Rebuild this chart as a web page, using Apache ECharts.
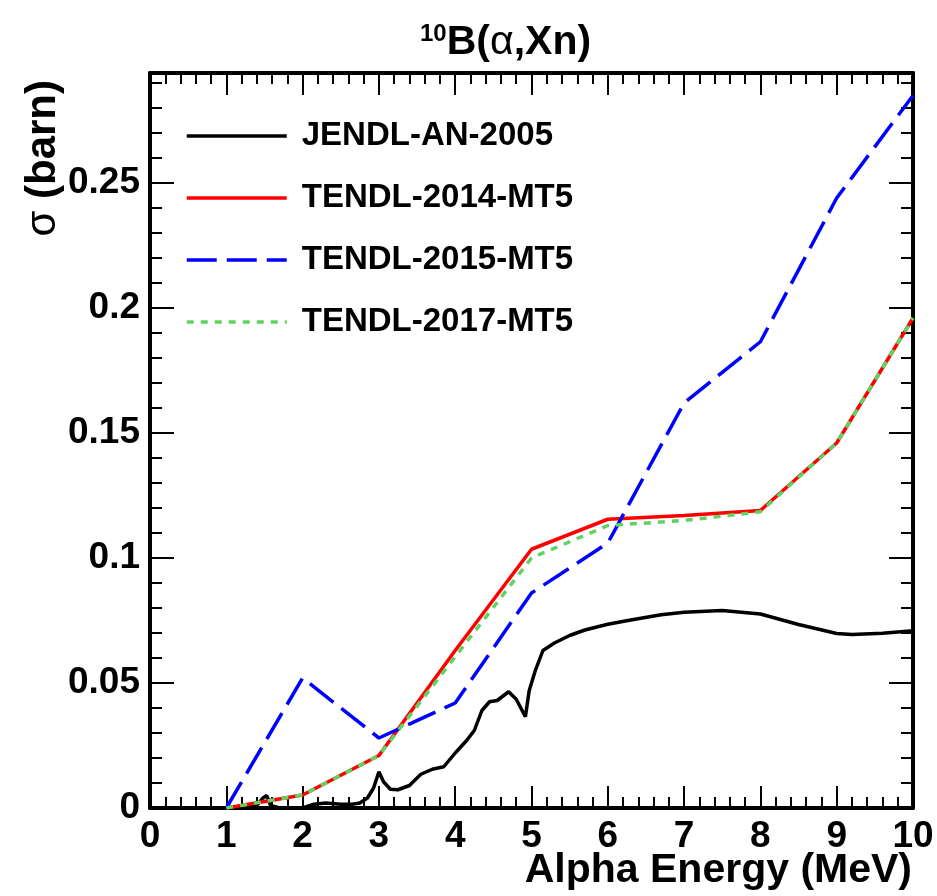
<!DOCTYPE html>
<html>
<head>
<meta charset="utf-8">
<script src="https://cdn.jsdelivr.net/npm/echarts@6/dist/echarts.min.js"></script>
<style>
  html, body { margin: 0; padding: 0; background: #fff; }
  #chart { width: 937px; height: 896px; }
</style>
</head>
<body>
<div id="chart"></div>
<script>
  // alpha energy (MeV) and cross section (barn)
  var jendlE = [1.0, 1.2, 1.4, 1.48, 1.53, 1.58, 1.7, 2.0, 2.15, 2.3, 2.5, 2.65, 2.75, 2.85, 2.93, 3.0, 3.06, 3.15, 3.25, 3.4, 3.55, 3.7, 3.85, 4.0, 4.15, 4.25, 4.35, 4.45, 4.55, 4.7, 4.8, 4.92, 4.97, 5.05, 5.15, 5.3, 5.5, 5.7, 6.0, 6.3, 6.7, 7.0, 7.5, 8.0, 8.5, 9.0, 9.2, 9.6, 10.0]
  var jendlXS = [0, 0.0005, 0.001, 0.004, 0.005, 0.001, 0, 0, 0.0015, 0.002, 0.0015, 0.0015, 0.002, 0.004, 0.008, 0.0145, 0.0105, 0.0075, 0.0073, 0.009, 0.0135, 0.0155, 0.0165, 0.022, 0.027, 0.031, 0.039, 0.0425, 0.043, 0.0465, 0.0435, 0.0365, 0.047, 0.055, 0.063, 0.066, 0.069, 0.0712, 0.0735, 0.0752, 0.0773, 0.0783, 0.079, 0.0776, 0.0734, 0.0698, 0.0694, 0.0699, 0.0709]

  var tendlE = [1, 2, 3, 4, 5, 6, 7, 8, 9, 10]
  var tendl14XS = [0, 0.0052, 0.021, 0.063, 0.1035, 0.1155, 0.117, 0.119, 0.146, 0.196]
  var tendl15XS = [0, 0.052, 0.028, 0.042, 0.086, 0.106, 0.162, 0.1865, 0.244, 0.285]
  var tendl17XS = [0, 0.0052, 0.021, 0.0605, 0.1, 0.113, 0.115, 0.1185, 0.146, 0.196]

  var xTicks = [0, 1, 2, 3, 4, 5, 6, 7, 8, 9, 10]
  var yMajor = [0, 0.05, 0.1, 0.15, 0.2, 0.25]

  var fontFam = "'Liberation Sans', Arial, Helvetica, sans-serif"

  function pairs(xs, ys) {
    return xs.map(function (x, i) { return [x, ys[i]] })
  }

  var chart = echarts.init(document.getElementById('chart'))

  function xAxisOf(pos) {
    return {
      type: 'value',
      position: pos,
      min: xTicks[0],
      max: xTicks[xTicks.length - 1],
      interval: 1,
      axisLine: { show: true, onZero: false, lineStyle: { color: '#000', width: 4 } },
      axisTick: { show: true, inside: true, length: 22, lineStyle: { color: '#000', width: 2 } },
      minorTick: { show: true, splitNumber: 5, length: 11, lineStyle: { color: '#000', width: 2 } },
      axisLabel: {
        show: pos === 'bottom',
        color: '#000', fontSize: 37, fontWeight: 'bold', fontFamily: fontFam, margin: 10
      },
      splitLine: { show: false },
      minorSplitLine: { show: false }
    }
  }

  function yAxisOf(pos, major) {
    return {
      type: 'value',
      position: pos,
      min: 0,
      max: 0.294,
      interval: major ? 0.05 : 0.01,
      axisLine: { show: major, onZero: false, lineStyle: { color: '#000', width: 4 } },
      axisTick: { show: true, inside: true, length: major ? 24 : 12, lineStyle: { color: '#000', width: 2 } },
      axisLabel: {
        show: major && pos === 'left',
        color: '#000', fontSize: 37, fontWeight: 'bold', fontFamily: fontFam, margin: 10,
        formatter: function (v) {
          if (v > yMajor[yMajor.length - 1] + 0.001) return ''
          return String(Number(v.toFixed(3)))
        }
      },
      splitLine: { show: false }
    }
  }

  var option = {
    animation: false,
    backgroundColor: '#fff',
    title: {
      left: 415,
      top: 17,
      text: '{sup|10}{b|B(}{a|α}{b|,Xn)}',
      textStyle: {
        rich: {
          sup: { fontSize: 24, fontWeight: 'bold', fontFamily: fontFam, color: '#000', verticalAlign: 'top', lineHeight: 42 },
          b: { fontSize: 41, fontWeight: 'bold', fontFamily: fontFam, color: '#000', lineHeight: 42 },
          a: { fontSize: 41, fontWeight: 'normal', fontFamily: fontFam, color: '#000', lineHeight: 42 }
        }
      }
    },
    graphic: [{
      type: 'text',
      x: 43,
      y: 80,
      rotation: Math.PI / 2,
      style: {
        text: '{s|σ}{b| (barn)}',
        align: 'right',
        verticalAlign: 'middle',
        rich: {
          s: { fontSize: 42, fontWeight: 'normal', fontFamily: fontFam, fill: '#000' },
          b: { fontSize: 42, fontWeight: 'bold', fontFamily: fontFam, fill: '#000' }
        }
      }
    }, {
      type: 'text',
      x: 912,
      y: 871,
      style: {
        text: 'Alpha Energy (MeV)',
        align: 'right',
        verticalAlign: 'middle',
        fontSize: 41, fontWeight: 'bold', fontFamily: fontFam, fill: '#000'
      }
    }],
    legend: {
      orient: 'vertical',
      left: 180,
      top: 114,
      itemWidth: 100,
      itemHeight: 14,
      itemGap: 28,
      selectedMode: false,
      itemStyle: { opacity: 0, borderWidth: 0 },
      lineStyle: { width: 3.5 },
      textStyle: { color: '#000', fontSize: 33, fontWeight: 'bold', fontFamily: fontFam, lineHeight: 34, padding: [0, 0, 0, 10] },
      data: ['JENDL-AN-2005', 'TENDL-2014-MT5', 'TENDL-2015-MT5', 'TENDL-2017-MT5']
    },
    grid: { left: 150, right: 24, top: 73, bottom: 88, containLabel: false, outerBoundsMode: 'none' },
    xAxis: [xAxisOf('bottom'), xAxisOf('top')],
    yAxis: [yAxisOf('left', true), yAxisOf('left', false), yAxisOf('right', true), yAxisOf('right', false)],
    series: [
      {
        name: 'JENDL-AN-2005', type: 'line', symbol: 'none', showSymbol: false,
        data: pairs(jendlE, jendlXS),
        lineStyle: { color: '#000', width: 3.5 }, itemStyle: { color: '#000' }
      },
      {
        name: 'TENDL-2014-MT5', type: 'line', symbol: 'none', showSymbol: false,
        data: pairs(tendlE, tendl14XS),
        lineStyle: { color: '#ff0000', width: 3.5 }, itemStyle: { color: '#ff0000' }
      },
      {
        name: 'TENDL-2015-MT5', type: 'line', symbol: 'none', showSymbol: false,
        data: pairs(tendlE, tendl15XS),
        lineStyle: { color: '#0000ff', width: 3.5, type: [30, 10] }, itemStyle: { color: '#0000ff' }
      },
      {
        name: 'TENDL-2017-MT5', type: 'line', symbol: 'none', showSymbol: false,
        data: pairs(tendlE, tendl17XS),
        lineStyle: { color: '#5fd35f', width: 3.5, type: [7, 7] }, itemStyle: { color: '#5fd35f' }
      }
    ]
  }

  chart.setOption(option)
</script>
</body>
</html>
